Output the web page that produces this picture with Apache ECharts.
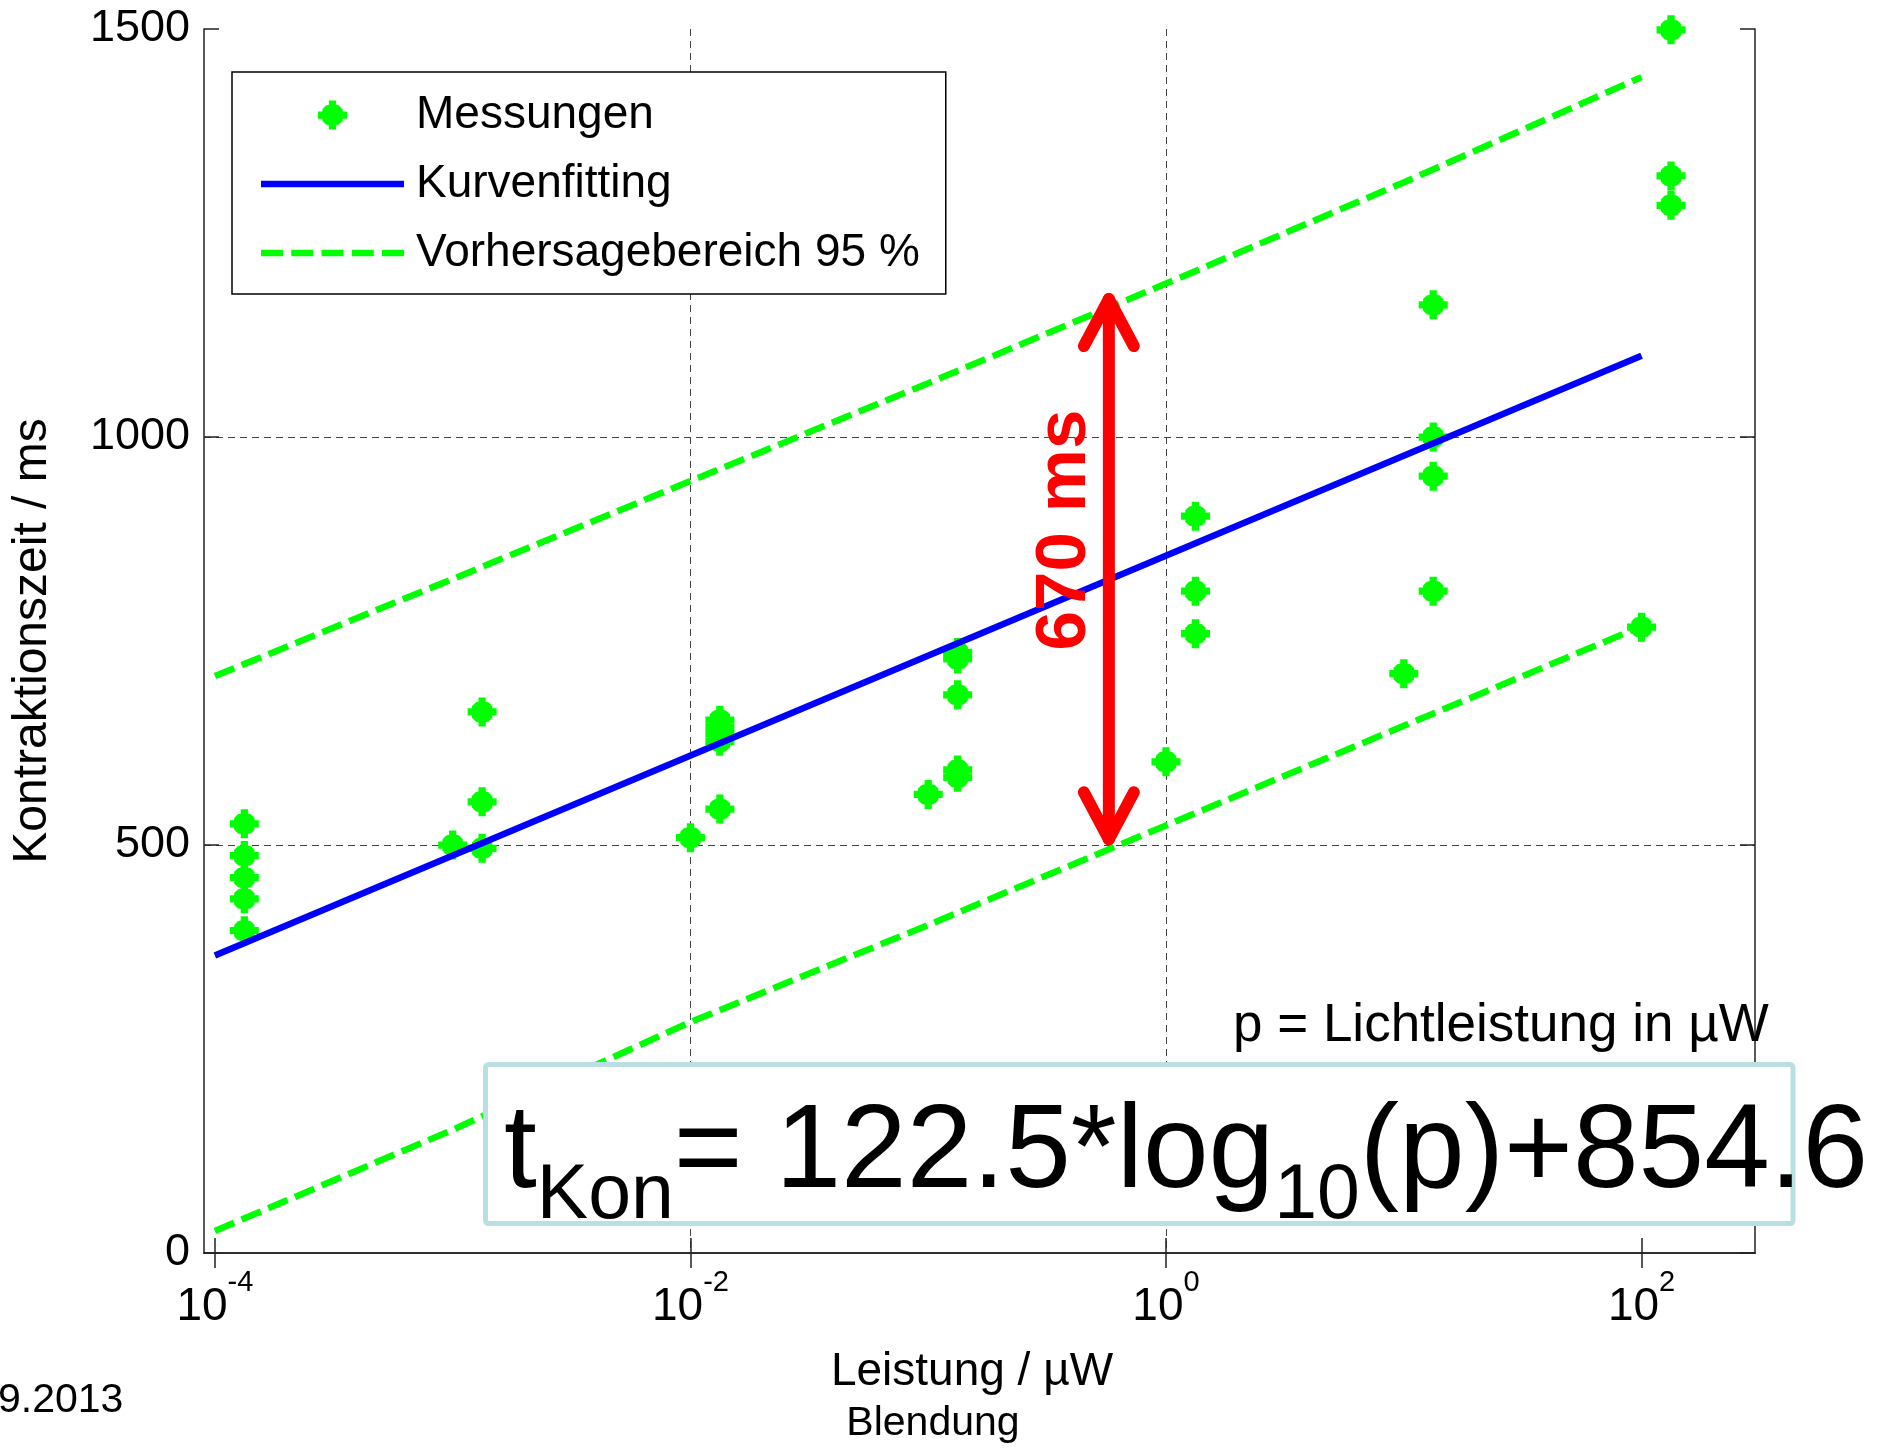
<!DOCTYPE html>
<html>
<head>
<meta charset="utf-8">
<script src="https://cdn.jsdelivr.net/npm/echarts@6/dist/echarts.min.js"></script>
<style>
  html, body { margin: 0; padding: 0; background: #fff; }
  #chart { width: 1888px; height: 1448px; }
</style>
</head>
<body>
<div id="chart"></div>
<script>
const FONT = "'Liberation Sans', Arial, sans-serif";

// Messungen (Leistung in µW, Kontraktionszeit in ms)
const messLeistung = [
  1.33e-4, 1.33e-4, 1.33e-4, 1.33e-4, 1.33e-4,
  1e-3, 1.33e-3, 1.33e-3, 1.33e-3,
  1e-2, 1.33e-2, 1.33e-2, 1.33e-2, 1.33e-2, 1.33e-2,
  0.1, 0.133, 0.133, 0.133, 0.133, 0.133,
  1, 1.33, 1.33, 1.33,
  10, 13.3, 13.3, 13.3, 13.3,
  100, 133, 133, 133
];
const messZeit = [
  526, 487, 460, 434, 395,
  500, 663, 553, 496,
  509, 653, 644, 636, 627, 544,
  562, 736, 728, 684, 592, 583,
  602, 903, 811, 759,
  710, 1162, 1000, 952, 811,
  767, 1499, 1320, 1284
];

// Kurvenfitting t = 122.5*log10(p)+854.6
const fitLeistung = [1e-4, 100];
const fitZeit = [364.6, 1099.6];

// Vorhersagebereich 95 %
const bandLeistung = [1e-4, 1e-3, 1e-2, 1e-1, 1, 10, 100];
const bandOben = [707, 826, 946, 1066, 1188, 1312, 1441];
const bandUnten = [27, 151, 283, 402, 524, 646, 768];

// Achsen
const xTicks = [1e-4, 1e-2, 1, 100];
const yTicks = [0, 500, 1000, 1500];

// Pfeil "670 ms"
const pfeilLeistung = 0.575;
const pfeilVon = 507;
const pfeilBis = 1169;

const zip = (xs, ys) => xs.map((x, i) => [x, ys[i]]);

const marker = 'path://M7.5,0L12.5,0L12.5,3L14.5,3.5L17,6L17,7.5L20,7.5L20,12.5L17,12.5L17,14L14.5,16.5L12.5,17L12.5,20L7.5,20L7.5,17L5.5,16.5L3,14L3,12.5L0,12.5L0,7.5L3,7.5L3,6L5.5,3.5L7.5,3Z';
// Legendensymbole: durchgezogene und gestrichelte Linie
const iconSolid = 'path://M0,0L143,0L143,6.5L0,6.5Z';
const iconDash = 'path://M0,0L22,0L22,6.5L0,6.5Z M30.25,0L52.25,0L52.25,6.5L30.25,6.5Z M60.5,0L82.5,0L82.5,6.5L60.5,6.5Z M90.75,0L112.75,0L112.75,6.5L90.75,6.5Z M121,0L143,0L143,6.5L121,6.5Z';

const frame = { show: true, lineStyle: { color: '#222', width: 1.5 } };
const grid = { show: true, lineStyle: { color: '#444', width: 1, type: [7, 5] }, showMinLine: false, showMaxLine: false };

const myChart = echarts.init(document.getElementById('chart'));

const option = {
  animation: false,
  backgroundColor: '#fff',
  textStyle: { fontFamily: FONT },
  grid: { left: 204, top: 29, right: 133, bottom: 195, containLabel: false, outerBoundsMode: 'none' },
  legend: {
    orient: 'vertical',
    left: 232,
    top: 72,
    padding: [20, 26, 18, 29],
    itemGap: 23,
    itemWidth: 143,
    itemHeight: 29,
    borderColor: '#000',
    borderWidth: 1.5,
    borderRadius: 0,
    backgroundColor: '#fff',
    selectedMode: false,
    textStyle: { fontSize: 46, lineHeight: 46, color: '#000', fontFamily: FONT, padding: [0, 0, 0, 7] },
    data: [
      { name: 'Messungen' },
      { name: 'Kurvenfitting', icon: iconSolid, itemStyle: { borderWidth: 0, color: '#0000ff' } },
      { name: 'Vorhersagebereich 95 %', icon: iconDash, itemStyle: { borderWidth: 0, color: '#00ff00' } }
    ]
  },
  xAxis: [
    {
      type: 'log',
      logBase: 10,
      min: 9e-5,
      max: 300,
      position: 'bottom',
      name: 'Leistung / µW',
      nameLocation: 'middle',
      nameGap: 96,
      nameTextStyle: { fontSize: 46, lineHeight: 46, color: '#000', fontFamily: FONT, padding: [0, 15, 0, 0] },
      axisLine: frame,
      axisTick: { show: true, inside: true, length: 15, customValues: xTicks, lineStyle: { color: '#222', width: 1.5 } },
      axisLabel: {
        customValues: xTicks,
        margin: 15,
        formatter: v => '{b|10}{s|' + Math.round(Math.log10(v)) + '}',
        rich: {
          b: { fontSize: 46, lineHeight: 63, verticalAlign: 'top', padding: [16.6, 0, 0, 0], color: '#000', fontFamily: FONT },
          s: { fontSize: 29, lineHeight: 29, verticalAlign: 'top', color: '#000', fontFamily: FONT }
        }
      },
      splitLine: grid
    },
    {
      type: 'log',
      logBase: 10,
      min: 9e-5,
      max: 300,
      position: 'top',
      axisLine: frame,
      axisTick: { show: true, inside: true, length: 15, customValues: xTicks, lineStyle: { color: '#222', width: 1.5 } },
      axisLabel: { show: false },
      splitLine: { show: false }
    }
  ],
  yAxis: [
    {
      type: 'value',
      min: 0,
      max: 1500,
      interval: 500,
      position: 'left',
      name: 'Kontraktionszeit / ms',
      nameLocation: 'middle',
      nameRotate: 90,
      nameGap: 147,
      nameTextStyle: { fontSize: 48, lineHeight: 48, color: '#000', fontFamily: FONT },
      axisLine: frame,
      axisTick: { show: true, inside: true, length: 15, lineStyle: { color: '#222', width: 1.5 } },
      axisLabel: { fontSize: 45, color: '#000', fontFamily: FONT, margin: 14, customValues: yTicks, formatter: v => String(v) },
      splitLine: grid
    },
    {
      type: 'value',
      min: 0,
      max: 1500,
      interval: 500,
      position: 'right',
      axisLine: frame,
      axisTick: { show: true, inside: true, length: 15, lineStyle: { color: '#222', width: 1.5 } },
      axisLabel: { show: false },
      splitLine: { show: false }
    }
  ],
  series: [
    {
      name: 'Messungen',
      type: 'scatter',
      data: zip(messLeistung, messZeit),
      symbol: marker,
      symbolSize: 29,
      clip: false,
      itemStyle: { color: '#00ff00', opacity: 1 }
    },
    {
      name: 'Kurvenfitting',
      type: 'line',
      data: zip(fitLeistung, fitZeit),
      symbol: 'none',
      showSymbol: false,
      lineStyle: { color: '#0000ff', width: 6.5 },
      itemStyle: { color: '#0000ff' }
    },
    {
      name: 'Vorhersagebereich 95 %',
      type: 'line',
      data: zip(bandLeistung, bandOben),
      symbol: 'none',
      showSymbol: false,
      lineStyle: { color: '#00ff00', width: 6.5, type: [21, 8] },
      itemStyle: { color: '#00ff00' }
    },
    {
      name: 'Vorhersagebereich 95 %',
      type: 'line',
      data: zip(bandLeistung, bandUnten),
      symbol: 'none',
      showSymbol: false,
      lineStyle: { color: '#00ff00', width: 6.5, type: [21, 8] },
      itemStyle: { color: '#00ff00' }
    }
  ]
};

myChart.setOption(option);

// Pfeil und Beschriftungen
const oben = myChart.convertToPixel({ xAxisIndex: 0, yAxisIndex: 0 }, [pfeilLeistung, pfeilBis]);
const unten = myChart.convertToPixel({ xAxisIndex: 0, yAxisIndex: 0 }, [pfeilLeistung, pfeilVon]);
const ax = oben[0];
const red = { stroke: '#ff0000', lineWidth: 12, lineCap: 'round', lineJoin: 'round', fill: null };

myChart.setOption({
  graphic: [
    { type: 'polyline', z: 50, shape: { points: [[ax, oben[1]], [ax, unten[1]]] }, style: red },
    { type: 'polyline', z: 50, shape: { points: [[ax - 25, oben[1] + 47], [ax, oben[1]], [ax + 25, oben[1] + 47]] }, style: red },
    { type: 'polyline', z: 50, shape: { points: [[ax - 25, unten[1] - 47], [ax, unten[1]], [ax + 25, unten[1] - 47]] }, style: red },
    {
      type: 'text', z: 51, x: 1065, y: 530, rotation: Math.PI / 2,
      style: { text: '670 ms', fill: '#ff0000', font: "bold 71px " + FONT, align: 'center', verticalAlign: 'middle' }
    },
    {
      type: 'text', z: 20, x: 1233, y: 1026,
      style: { text: 'p = Lichtleistung in µW', fill: '#000', font: "53px " + FONT, align: 'left', verticalAlign: 'middle' }
    },
    {
      type: 'rect', z: 100,
      shape: { x: 485.5, y: 1064.5, width: 1307.5, height: 159, r: 3 },
      style: { fill: '#fff', stroke: '#b9dfe3', lineWidth: 5 }
    },
    {
      type: 'text', z: 101, x: 504, y: 1095,
      style: {
        text: '{m|t}{s|Kon}{m|= 122.5*log}{s|10}{m|(p)+854.6}',
        align: 'left',
        verticalAlign: 'top',
        rich: {
          m: { fontSize: 118, lineHeight: 118, verticalAlign: 'top', fill: '#000', fontFamily: FONT },
          s: { fontSize: 77, lineHeight: 141, verticalAlign: 'top', padding: [63.5, 0, 0, 0], fill: '#000', fontFamily: FONT }
        }
      }
    },
    {
      type: 'text', z: 20, x: 933, y: 1424,
      style: { text: 'Blendung', fill: '#000', font: "41px " + FONT, align: 'center', verticalAlign: 'middle' }
    },
    {
      type: 'text', z: 20, x: -2, y: 1401,
      style: { text: '9.2013', fill: '#000', font: "41px " + FONT, align: 'left', verticalAlign: 'middle' }
    }
  ]
});
</script>
</body>
</html>
